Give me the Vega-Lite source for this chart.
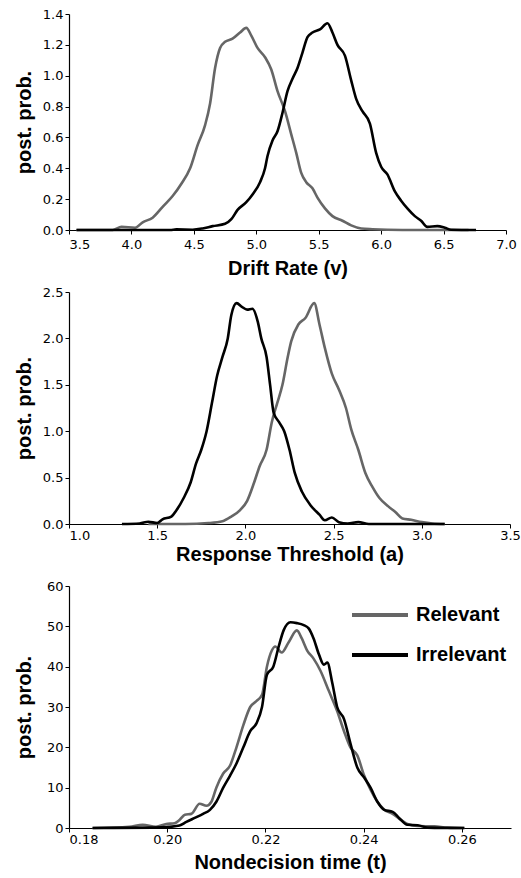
{
  "$schema": "https://vega.github.io/schema/vega-lite/v6.json",
  "background": "white",
  "padding": {"left": 14, "top": 8, "right": 6, "bottom": 6},
  "spacing": 62,
  "bounds": "flush",
  "config": {
    "view": {"stroke": null},
    "axis": {
      "grid": false,
      "domainColor": "black",
      "domainWidth": 1.2,
      "tickColor": "black",
      "tickSize": 4,
      "labelFont": "DejaVu Sans",
      "labelFontSize": 13,
      "labelColor": "black",
      "titleFont": "Liberation Sans",
      "titleFontSize": 20,
      "titleFontWeight": "bold",
      "titleColor": "black"
    }
  },
  "resolve": {"scale": {"color": "independent", "x": "independent", "y": "independent"}, "legend": {"color": "independent"}},
  "datasets": {
    "drift": [
      {"x": 3.56, "y": 0, "cond": "Relevant"},
      {"x": 3.85, "y": 0.0, "cond": "Relevant"},
      {"x": 3.92, "y": 0.02, "cond": "Relevant"},
      {"x": 4.03, "y": 0.015, "cond": "Relevant"},
      {"x": 4.09, "y": 0.05, "cond": "Relevant"},
      {"x": 4.17, "y": 0.08, "cond": "Relevant"},
      {"x": 4.25, "y": 0.15, "cond": "Relevant"},
      {"x": 4.33, "y": 0.22, "cond": "Relevant"},
      {"x": 4.40, "y": 0.30, "cond": "Relevant"},
      {"x": 4.47, "y": 0.40, "cond": "Relevant"},
      {"x": 4.53, "y": 0.55, "cond": "Relevant"},
      {"x": 4.59, "y": 0.68, "cond": "Relevant"},
      {"x": 4.63, "y": 0.82, "cond": "Relevant"},
      {"x": 4.67, "y": 1.05, "cond": "Relevant"},
      {"x": 4.71, "y": 1.18, "cond": "Relevant"},
      {"x": 4.75, "y": 1.22, "cond": "Relevant"},
      {"x": 4.81, "y": 1.24, "cond": "Relevant"},
      {"x": 4.87, "y": 1.28, "cond": "Relevant"},
      {"x": 4.92, "y": 1.31, "cond": "Relevant"},
      {"x": 4.96, "y": 1.26, "cond": "Relevant"},
      {"x": 5.01, "y": 1.18, "cond": "Relevant"},
      {"x": 5.07, "y": 1.12, "cond": "Relevant"},
      {"x": 5.12, "y": 1.04, "cond": "Relevant"},
      {"x": 5.17, "y": 0.90, "cond": "Relevant"},
      {"x": 5.23, "y": 0.77, "cond": "Relevant"},
      {"x": 5.28, "y": 0.62, "cond": "Relevant"},
      {"x": 5.32, "y": 0.50, "cond": "Relevant"},
      {"x": 5.36, "y": 0.37, "cond": "Relevant"},
      {"x": 5.40, "y": 0.31, "cond": "Relevant"},
      {"x": 5.45, "y": 0.27, "cond": "Relevant"},
      {"x": 5.49, "y": 0.21, "cond": "Relevant"},
      {"x": 5.55, "y": 0.14, "cond": "Relevant"},
      {"x": 5.61, "y": 0.09, "cond": "Relevant"},
      {"x": 5.69, "y": 0.06, "cond": "Relevant"},
      {"x": 5.76, "y": 0.03, "cond": "Relevant"},
      {"x": 5.84, "y": 0.01, "cond": "Relevant"},
      {"x": 5.93, "y": 0.005, "cond": "Relevant"},
      {"x": 6.17, "y": 0.0, "cond": "Relevant"},
      {"x": 6.70, "y": 0.0, "cond": "Relevant"},
      {"x": 3.56, "y": 0, "cond": "Irrelevant"},
      {"x": 4.31, "y": 0.0, "cond": "Irrelevant"},
      {"x": 4.36, "y": 0.004, "cond": "Irrelevant"},
      {"x": 4.49, "y": 0.002, "cond": "Irrelevant"},
      {"x": 4.57, "y": 0.01, "cond": "Irrelevant"},
      {"x": 4.65, "y": 0.025, "cond": "Irrelevant"},
      {"x": 4.75, "y": 0.04, "cond": "Irrelevant"},
      {"x": 4.80, "y": 0.07, "cond": "Irrelevant"},
      {"x": 4.85, "y": 0.13, "cond": "Irrelevant"},
      {"x": 4.92, "y": 0.18, "cond": "Irrelevant"},
      {"x": 4.97, "y": 0.23, "cond": "Irrelevant"},
      {"x": 5.03, "y": 0.31, "cond": "Irrelevant"},
      {"x": 5.07, "y": 0.40, "cond": "Irrelevant"},
      {"x": 5.09, "y": 0.48, "cond": "Irrelevant"},
      {"x": 5.13, "y": 0.58, "cond": "Irrelevant"},
      {"x": 5.17, "y": 0.64, "cond": "Irrelevant"},
      {"x": 5.21, "y": 0.76, "cond": "Irrelevant"},
      {"x": 5.25, "y": 0.90, "cond": "Irrelevant"},
      {"x": 5.29, "y": 0.98, "cond": "Irrelevant"},
      {"x": 5.33, "y": 1.05, "cond": "Irrelevant"},
      {"x": 5.37, "y": 1.15, "cond": "Irrelevant"},
      {"x": 5.41, "y": 1.25, "cond": "Irrelevant"},
      {"x": 5.45, "y": 1.28, "cond": "Irrelevant"},
      {"x": 5.51, "y": 1.30, "cond": "Irrelevant"},
      {"x": 5.57, "y": 1.34, "cond": "Irrelevant"},
      {"x": 5.61, "y": 1.28, "cond": "Irrelevant"},
      {"x": 5.65, "y": 1.20, "cond": "Irrelevant"},
      {"x": 5.71, "y": 1.13, "cond": "Irrelevant"},
      {"x": 5.76, "y": 0.97, "cond": "Irrelevant"},
      {"x": 5.80, "y": 0.85, "cond": "Irrelevant"},
      {"x": 5.85, "y": 0.77, "cond": "Irrelevant"},
      {"x": 5.91, "y": 0.69, "cond": "Irrelevant"},
      {"x": 5.96, "y": 0.50, "cond": "Irrelevant"},
      {"x": 6.00, "y": 0.41, "cond": "Irrelevant"},
      {"x": 6.05, "y": 0.36, "cond": "Irrelevant"},
      {"x": 6.11, "y": 0.25, "cond": "Irrelevant"},
      {"x": 6.16, "y": 0.19, "cond": "Irrelevant"},
      {"x": 6.21, "y": 0.14, "cond": "Irrelevant"},
      {"x": 6.27, "y": 0.09, "cond": "Irrelevant"},
      {"x": 6.32, "y": 0.06, "cond": "Irrelevant"},
      {"x": 6.37, "y": 0.02, "cond": "Irrelevant"},
      {"x": 6.45, "y": 0.025, "cond": "Irrelevant"},
      {"x": 6.51, "y": 0.015, "cond": "Irrelevant"},
      {"x": 6.56, "y": 0.002, "cond": "Irrelevant"},
      {"x": 6.76, "y": 0.0, "cond": "Irrelevant"}
    ],
    "thresh": [
      {"x": 1.45, "y": 0.0, "cond": "Relevant"},
      {"x": 1.66, "y": 0.0, "cond": "Relevant"},
      {"x": 1.79, "y": 0.01, "cond": "Relevant"},
      {"x": 1.87, "y": 0.03, "cond": "Relevant"},
      {"x": 1.92, "y": 0.08, "cond": "Relevant"},
      {"x": 1.97, "y": 0.15, "cond": "Relevant"},
      {"x": 2.01, "y": 0.25, "cond": "Relevant"},
      {"x": 2.05, "y": 0.45, "cond": "Relevant"},
      {"x": 2.08, "y": 0.62, "cond": "Relevant"},
      {"x": 2.12, "y": 0.80, "cond": "Relevant"},
      {"x": 2.15, "y": 1.10, "cond": "Relevant"},
      {"x": 2.18, "y": 1.30, "cond": "Relevant"},
      {"x": 2.21, "y": 1.50, "cond": "Relevant"},
      {"x": 2.24, "y": 1.80, "cond": "Relevant"},
      {"x": 2.26, "y": 1.97, "cond": "Relevant"},
      {"x": 2.30, "y": 2.15, "cond": "Relevant"},
      {"x": 2.34, "y": 2.22, "cond": "Relevant"},
      {"x": 2.39, "y": 2.38, "cond": "Relevant"},
      {"x": 2.42, "y": 2.15, "cond": "Relevant"},
      {"x": 2.45, "y": 1.90, "cond": "Relevant"},
      {"x": 2.49, "y": 1.62, "cond": "Relevant"},
      {"x": 2.53, "y": 1.45, "cond": "Relevant"},
      {"x": 2.57, "y": 1.25, "cond": "Relevant"},
      {"x": 2.60, "y": 1.02, "cond": "Relevant"},
      {"x": 2.64, "y": 0.80, "cond": "Relevant"},
      {"x": 2.68, "y": 0.55, "cond": "Relevant"},
      {"x": 2.72, "y": 0.40, "cond": "Relevant"},
      {"x": 2.76, "y": 0.28, "cond": "Relevant"},
      {"x": 2.81, "y": 0.19, "cond": "Relevant"},
      {"x": 2.85, "y": 0.13, "cond": "Relevant"},
      {"x": 2.89, "y": 0.06, "cond": "Relevant"},
      {"x": 2.94, "y": 0.045, "cond": "Relevant"},
      {"x": 3.00, "y": 0.02, "cond": "Relevant"},
      {"x": 3.06, "y": 0.005, "cond": "Relevant"},
      {"x": 3.13, "y": 0.0, "cond": "Relevant"},
      {"x": 1.30, "y": 0.0, "cond": "Irrelevant"},
      {"x": 1.40, "y": 0.005, "cond": "Irrelevant"},
      {"x": 1.45, "y": 0.025, "cond": "Irrelevant"},
      {"x": 1.50, "y": 0.01, "cond": "Irrelevant"},
      {"x": 1.53, "y": 0.05, "cond": "Irrelevant"},
      {"x": 1.58, "y": 0.08, "cond": "Irrelevant"},
      {"x": 1.61, "y": 0.15, "cond": "Irrelevant"},
      {"x": 1.65, "y": 0.28, "cond": "Irrelevant"},
      {"x": 1.69, "y": 0.45, "cond": "Irrelevant"},
      {"x": 1.72, "y": 0.65, "cond": "Irrelevant"},
      {"x": 1.75, "y": 0.80, "cond": "Irrelevant"},
      {"x": 1.78, "y": 1.00, "cond": "Irrelevant"},
      {"x": 1.81, "y": 1.30, "cond": "Irrelevant"},
      {"x": 1.84, "y": 1.60, "cond": "Irrelevant"},
      {"x": 1.87, "y": 1.80, "cond": "Irrelevant"},
      {"x": 1.90, "y": 2.00, "cond": "Irrelevant"},
      {"x": 1.92, "y": 2.25, "cond": "Irrelevant"},
      {"x": 1.95, "y": 2.38, "cond": "Irrelevant"},
      {"x": 1.98, "y": 2.34, "cond": "Irrelevant"},
      {"x": 2.01, "y": 2.31, "cond": "Irrelevant"},
      {"x": 2.04, "y": 2.32, "cond": "Irrelevant"},
      {"x": 2.07, "y": 2.18, "cond": "Irrelevant"},
      {"x": 2.09, "y": 2.00, "cond": "Irrelevant"},
      {"x": 2.12, "y": 1.80, "cond": "Irrelevant"},
      {"x": 2.14, "y": 1.50, "cond": "Irrelevant"},
      {"x": 2.16, "y": 1.20, "cond": "Irrelevant"},
      {"x": 2.19, "y": 1.10, "cond": "Irrelevant"},
      {"x": 2.22, "y": 1.00, "cond": "Irrelevant"},
      {"x": 2.25, "y": 0.80, "cond": "Irrelevant"},
      {"x": 2.28, "y": 0.55, "cond": "Irrelevant"},
      {"x": 2.32, "y": 0.35, "cond": "Irrelevant"},
      {"x": 2.37, "y": 0.20, "cond": "Irrelevant"},
      {"x": 2.42, "y": 0.10, "cond": "Irrelevant"},
      {"x": 2.45, "y": 0.04, "cond": "Irrelevant"},
      {"x": 2.49, "y": 0.07, "cond": "Irrelevant"},
      {"x": 2.53, "y": 0.02, "cond": "Irrelevant"},
      {"x": 2.58, "y": 0.005, "cond": "Irrelevant"},
      {"x": 2.64, "y": 0.02, "cond": "Irrelevant"},
      {"x": 2.70, "y": 0.0, "cond": "Irrelevant"},
      {"x": 3.13, "y": 0.0, "cond": "Irrelevant"}
    ],
    "ndt": [
      {"x": 0.1848, "y": 0, "cond": "Relevant"},
      {"x": 0.1923, "y": 0.3, "cond": "Relevant"},
      {"x": 0.1950, "y": 0.8, "cond": "Relevant"},
      {"x": 0.1977, "y": 0.3, "cond": "Relevant"},
      {"x": 0.1998, "y": 1.0, "cond": "Relevant"},
      {"x": 0.2015, "y": 1.2, "cond": "Relevant"},
      {"x": 0.2025, "y": 2.0, "cond": "Relevant"},
      {"x": 0.2036, "y": 3.3, "cond": "Relevant"},
      {"x": 0.2049, "y": 3.5, "cond": "Relevant"},
      {"x": 0.2066, "y": 6.0, "cond": "Relevant"},
      {"x": 0.2080, "y": 5.5, "cond": "Relevant"},
      {"x": 0.2090, "y": 6.5, "cond": "Relevant"},
      {"x": 0.2100, "y": 10, "cond": "Relevant"},
      {"x": 0.2114, "y": 13.5, "cond": "Relevant"},
      {"x": 0.2128, "y": 15.5, "cond": "Relevant"},
      {"x": 0.2141, "y": 20, "cond": "Relevant"},
      {"x": 0.2155, "y": 25.5, "cond": "Relevant"},
      {"x": 0.2169, "y": 30, "cond": "Relevant"},
      {"x": 0.2182, "y": 31.5, "cond": "Relevant"},
      {"x": 0.2193, "y": 33, "cond": "Relevant"},
      {"x": 0.2203, "y": 40, "cond": "Relevant"},
      {"x": 0.2213, "y": 44, "cond": "Relevant"},
      {"x": 0.2220, "y": 45, "cond": "Relevant"},
      {"x": 0.2233, "y": 43.5, "cond": "Relevant"},
      {"x": 0.2247, "y": 46, "cond": "Relevant"},
      {"x": 0.2264, "y": 49, "cond": "Relevant"},
      {"x": 0.2274, "y": 47, "cond": "Relevant"},
      {"x": 0.2285, "y": 44, "cond": "Relevant"},
      {"x": 0.2298, "y": 42, "cond": "Relevant"},
      {"x": 0.2312, "y": 39, "cond": "Relevant"},
      {"x": 0.2329, "y": 34, "cond": "Relevant"},
      {"x": 0.2346, "y": 29, "cond": "Relevant"},
      {"x": 0.2360, "y": 24, "cond": "Relevant"},
      {"x": 0.2373, "y": 20, "cond": "Relevant"},
      {"x": 0.2387, "y": 18, "cond": "Relevant"},
      {"x": 0.2401, "y": 13, "cond": "Relevant"},
      {"x": 0.2414, "y": 9.5, "cond": "Relevant"},
      {"x": 0.2428, "y": 6.5, "cond": "Relevant"},
      {"x": 0.2442, "y": 4.5, "cond": "Relevant"},
      {"x": 0.2459, "y": 3.5, "cond": "Relevant"},
      {"x": 0.2476, "y": 2.0, "cond": "Relevant"},
      {"x": 0.2489, "y": 1.0, "cond": "Relevant"},
      {"x": 0.2510, "y": 0.5, "cond": "Relevant"},
      {"x": 0.2544, "y": 0.4, "cond": "Relevant"},
      {"x": 0.2571, "y": 0.1, "cond": "Relevant"},
      {"x": 0.2605, "y": 0, "cond": "Relevant"},
      {"x": 0.1848, "y": 0, "cond": "Irrelevant"},
      {"x": 0.1971, "y": 0.1, "cond": "Irrelevant"},
      {"x": 0.2005, "y": 0.3, "cond": "Irrelevant"},
      {"x": 0.2025, "y": 0.6, "cond": "Irrelevant"},
      {"x": 0.2039, "y": 1.5, "cond": "Irrelevant"},
      {"x": 0.2056, "y": 2.5, "cond": "Irrelevant"},
      {"x": 0.2073, "y": 3.5, "cond": "Irrelevant"},
      {"x": 0.2087, "y": 4.5, "cond": "Irrelevant"},
      {"x": 0.2100, "y": 6.5, "cond": "Irrelevant"},
      {"x": 0.2114, "y": 10, "cond": "Irrelevant"},
      {"x": 0.2128, "y": 13, "cond": "Irrelevant"},
      {"x": 0.2141, "y": 16, "cond": "Irrelevant"},
      {"x": 0.2155, "y": 20, "cond": "Irrelevant"},
      {"x": 0.2169, "y": 24, "cond": "Irrelevant"},
      {"x": 0.2182, "y": 26, "cond": "Irrelevant"},
      {"x": 0.2193, "y": 30, "cond": "Irrelevant"},
      {"x": 0.2203, "y": 38, "cond": "Irrelevant"},
      {"x": 0.2216, "y": 40, "cond": "Irrelevant"},
      {"x": 0.2227, "y": 45, "cond": "Irrelevant"},
      {"x": 0.2237, "y": 49, "cond": "Irrelevant"},
      {"x": 0.2251, "y": 51, "cond": "Irrelevant"},
      {"x": 0.2264, "y": 50.8, "cond": "Irrelevant"},
      {"x": 0.2278, "y": 50.3, "cond": "Irrelevant"},
      {"x": 0.2288, "y": 49.5, "cond": "Irrelevant"},
      {"x": 0.2298, "y": 47, "cond": "Irrelevant"},
      {"x": 0.2309, "y": 43, "cond": "Irrelevant"},
      {"x": 0.2319, "y": 40.5, "cond": "Irrelevant"},
      {"x": 0.2326, "y": 41, "cond": "Irrelevant"},
      {"x": 0.2336, "y": 36, "cond": "Irrelevant"},
      {"x": 0.2346, "y": 30, "cond": "Irrelevant"},
      {"x": 0.2360, "y": 27, "cond": "Irrelevant"},
      {"x": 0.2373, "y": 21, "cond": "Irrelevant"},
      {"x": 0.2387, "y": 15, "cond": "Irrelevant"},
      {"x": 0.2401, "y": 12.5, "cond": "Irrelevant"},
      {"x": 0.2414, "y": 10, "cond": "Irrelevant"},
      {"x": 0.2428, "y": 6.5, "cond": "Irrelevant"},
      {"x": 0.2442, "y": 4.5, "cond": "Irrelevant"},
      {"x": 0.2459, "y": 4.0, "cond": "Irrelevant"},
      {"x": 0.2472, "y": 2.5, "cond": "Irrelevant"},
      {"x": 0.2489, "y": 0.8, "cond": "Irrelevant"},
      {"x": 0.2510, "y": 0.7, "cond": "Irrelevant"},
      {"x": 0.2530, "y": 0.1, "cond": "Irrelevant"},
      {"x": 0.2605, "y": 0, "cond": "Irrelevant"}
    ]
  },
  "vconcat": [
    {
      "width": 437,
      "height": 216,
      "data": {"name": "drift"},
      "mark": {"type": "line", "strokeWidth": 2.6, "interpolate": "monotone"},
      "encoding": {
        "x": {"field": "x", "type": "quantitative", "scale": {"domain": [3.5, 7.0], "nice": false, "zero": false},
              "axis": {"title": "Drift Rate (v)", "values": [3.5, 4.0, 4.5, 5.0, 5.5, 6.0, 6.5, 7.0], "format": ".1f", "labelPadding": 4, "titlePadding": 7,
                       "labelAlign": {"condition": {"test": "datum.index == 0", "value": "left"}, "value": "center"}}},
        "y": {"field": "y", "type": "quantitative", "scale": {"domain": [0, 1.4], "nice": false},
              "axis": {"title": "post. prob.", "values": [0, 0.2, 0.4, 0.6, 0.8, 1.0, 1.2, 1.4], "format": ".1f", "labelPadding": 2, "titlePadding": 8}},
        "color": {"field": "cond", "type": "nominal", "scale": {"domain": ["Relevant", "Irrelevant"], "range": ["#666666", "#000000"]}, "legend": null}
      }
    },
    {
      "width": 441,
      "height": 232,
      "data": {"name": "thresh"},
      "mark": {"type": "line", "strokeWidth": 2.6, "interpolate": "monotone"},
      "encoding": {
        "x": {"field": "x", "type": "quantitative", "scale": {"domain": [1.0, 3.5], "nice": false, "zero": false},
              "axis": {"title": "Response Threshold (a)", "values": [1.0, 1.5, 2.0, 2.5, 3.0, 3.5], "format": ".1f", "labelPadding": 1, "titlePadding": 2,
                       "labelAlign": {"condition": {"test": "datum.index == 0", "value": "left"}, "value": "center"}}},
        "y": {"field": "y", "type": "quantitative", "scale": {"domain": [0, 2.5], "nice": false},
              "axis": {"title": "post. prob.", "values": [0, 0.5, 1.0, 1.5, 2.0, 2.5], "format": ".1f", "labelPadding": 2, "titlePadding": 8}},
        "color": {"field": "cond", "type": "nominal", "scale": {"domain": ["Relevant", "Irrelevant"], "range": ["#666666", "#000000"]}, "legend": null}
      }
    },
    {
      "width": 442,
      "height": 242,
      "data": {"name": "ndt"},
      "mark": {"type": "line", "strokeWidth": 2.6, "interpolate": "monotone"},
      "encoding": {
        "x": {"field": "x", "type": "quantitative", "scale": {"domain": [0.18, 0.27], "nice": false, "zero": false},
              "axis": {"title": "Nondecision time (t)", "values": [0.18, 0.20, 0.22, 0.24, 0.26], "format": ".2f", "labelPadding": 1, "titlePadding": 6,
                       "labelAlign": {"condition": {"test": "datum.index == 0", "value": "left"}, "value": "center"}}},
        "y": {"field": "y", "type": "quantitative", "scale": {"domain": [0, 60], "nice": false},
              "axis": {"title": "post. prob.", "values": [0, 10, 20, 30, 40, 50, 60], "format": "d", "labelPadding": 2, "titlePadding": 12}},
        "color": {"field": "cond", "type": "nominal", "scale": {"domain": ["Relevant", "Irrelevant"], "range": ["#666666", "#000000"]},
                  "legend": {"title": null, "orient": "none", "legendX": 281, "legendY": -1, "symbolType": "stroke", "symbolSize": 3136, "symbolStrokeWidth": 4,
                             "labelFont": "Liberation Sans", "labelFontWeight": "bold", "labelFontSize": 20, "labelColor": "black", "labelOffset": 6, "rowPadding": 0}}
      }
    }
  ]
}
